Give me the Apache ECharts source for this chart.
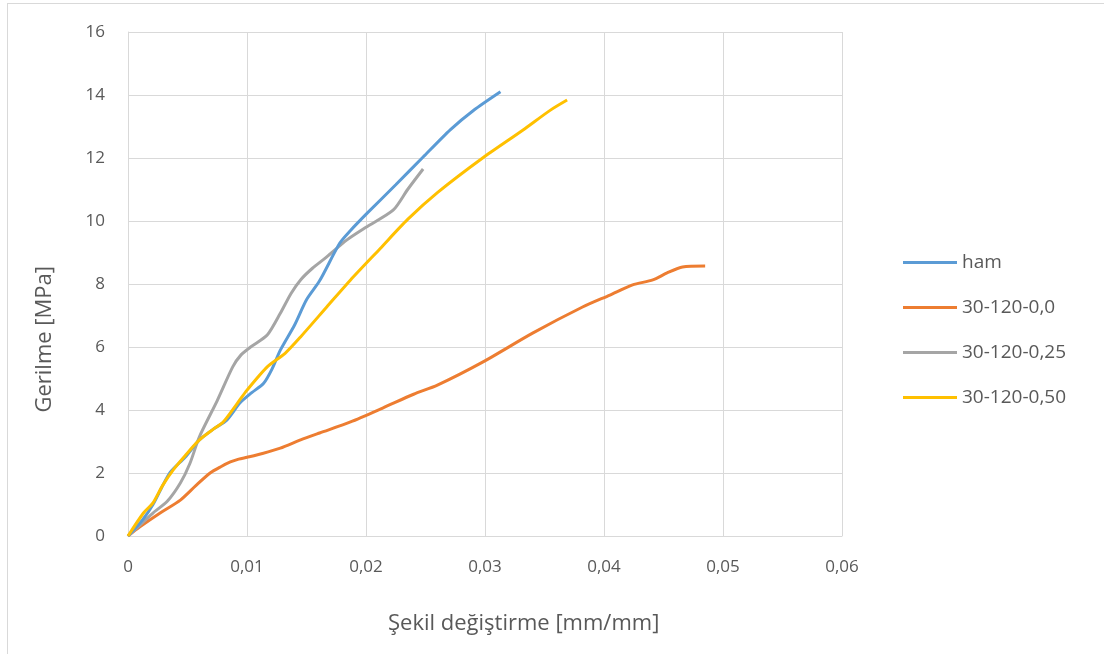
<!DOCTYPE html>
<html>
<head>
<meta charset="utf-8">
<script src="https://cdn.jsdelivr.net/npm/echarts@6/dist/echarts.min.js"></script>
<style>
  html, body { margin: 0; padding: 0; background: #fff; }
  #frame { position: absolute; left: 7px; top: 3px; width: 1200px; height: 700px;
           border-left: 1px solid #d9d9d9; border-top: 1px solid #d9d9d9; }
  #chart { position: absolute; left: 0; top: 0; width: 1104px; height: 654px; }
</style>
</head>
<body>
<div id="frame"></div>
<div id="chart"></div>
<script>
// Gerilme - şekil değiştirme eğrileri
const seriesNames = ["ham", "30-120-0,0", "30-120-0,25", "30-120-0,50"];
const seriesColors = ["#5B9BD5", "#ED7D31", "#A5A5A5", "#FFC000"];

const xTicks = [0, 0.01, 0.02, 0.03, 0.04, 0.05, 0.06];
const yTicks = [0, 2, 4, 6, 8, 10, 12, 14, 16];

// ham
const hamStrain = [0, 0.0012, 0.0021, 0.0035, 0.0048, 0.006, 0.0072, 0.0083, 0.0094, 0.0104, 0.0114, 0.0121, 0.0128, 0.014, 0.015, 0.0161, 0.0178, 0.0187, 0.0201, 0.0225, 0.0248, 0.0271, 0.029, 0.0313];
const hamStress = [0, 0.5, 1.0, 2.0, 2.5, 3.05, 3.4, 3.68, 4.22, 4.55, 4.85, 5.3, 5.9, 6.7, 7.5, 8.1, 9.3, 9.7, 10.25, 11.15, 12.03, 12.9, 13.5, 14.1];

// 30-120-0,0
const s00Strain = [0, 0.001, 0.0027, 0.0044, 0.0057, 0.0069, 0.0078, 0.0086, 0.0093, 0.01, 0.0113, 0.0128, 0.0145, 0.0161, 0.0187, 0.0214, 0.024, 0.026, 0.0298, 0.034, 0.0382, 0.0405, 0.0424, 0.0441, 0.0453, 0.0466, 0.0485];
const s00Stress = [0, 0.29, 0.73, 1.14, 1.6, 2.0, 2.2, 2.35, 2.44, 2.5, 2.62, 2.79, 3.05, 3.27, 3.62, 4.06, 4.5, 4.79, 5.52, 6.44, 7.27, 7.65, 7.97, 8.13, 8.35, 8.54, 8.57];

// 30-120-0,25
const s25Strain = [0, 0.0021, 0.0033, 0.0044, 0.0052, 0.006, 0.0075, 0.0088, 0.0095, 0.0103, 0.0117, 0.0128, 0.0137, 0.0145, 0.0155, 0.0167, 0.0184, 0.02, 0.0223, 0.0235, 0.0248];
const s25Stress = [0, 0.73, 1.1, 1.68, 2.3, 3.15, 4.3, 5.37, 5.75, 6.0, 6.38, 7.07, 7.7, 8.13, 8.5, 8.86, 9.4, 9.8, 10.35, 11.0, 11.65];

// 30-120-0,50
const s50Strain = [0, 0.0013, 0.0021, 0.0029, 0.0038, 0.0048, 0.006, 0.0072, 0.008, 0.0092, 0.01, 0.0117, 0.0132, 0.0145, 0.0167, 0.0187, 0.0212, 0.0235, 0.026, 0.0298, 0.0332, 0.0355, 0.0369];
const s50Stress = [0, 0.73, 1.05, 1.6, 2.1, 2.55, 3.05, 3.4, 3.62, 4.22, 4.63, 5.37, 5.8, 6.32, 7.27, 8.13, 9.13, 10.05, 10.9, 12.0, 12.89, 13.52, 13.84];

const strains = [hamStrain, s00Strain, s25Strain, s50Strain];
const stresses = [hamStress, s00Stress, s25Stress, s50Stress];

const labelFont = "'Open Sans', 'Noto Sans', sans-serif";

const chart = echarts.init(document.getElementById("chart"));

const series = seriesNames.map((name, i) => ({
  name: name,
  type: "line",
  data: strains[i].map((x, k) => [x, stresses[i][k]]),
  smooth: 0.25,
  showSymbol: false,
  symbol: "none",
  lineStyle: { color: seriesColors[i], width: 3 },
  itemStyle: { color: seriesColors[i] },
  z: i === 3 ? 5 : 3 + (i === 0 ? 1 : 0),
}));

chart.setOption({
  animation: false,
  backgroundColor: "transparent",
  grid: { left: 128, top: 32, width: 714, height: 504, containLabel: false },
  xAxis: {
    type: "value",
    min: xTicks[0],
    max: xTicks[xTicks.length - 1],
    interval: 0.01,
    axisLine: { show: true, lineStyle: { color: "#d9d9d9", width: 1 } },
    axisTick: { show: false },
    splitLine: { show: true, lineStyle: { color: "#d9d9d9", width: 1 } },
    axisLabel: {
      color: "#595959", fontSize: 17, fontFamily: labelFont, margin: 23,
      formatter: (v) => (v === 0 ? "0" : v.toFixed(2).replace(".", ",")),
    },
  },
  yAxis: {
    type: "value",
    min: yTicks[0],
    max: yTicks[yTicks.length - 1],
    interval: 2,
    axisLine: { show: true, lineStyle: { color: "#d9d9d9", width: 1 } },
    axisTick: { show: false },
    splitLine: { show: true, lineStyle: { color: "#d9d9d9", width: 1 } },
    axisLabel: { color: "#595959", fontSize: 17, fontFamily: labelFont, margin: 23 },
  },
  legend: {
    orient: "vertical",
    left: 903,
    top: 253,
    padding: 0,
    itemWidth: 54,
    itemHeight: 3,
    itemGap: 26,
    icon: "rect",
    textStyle: { color: "#595959", fontSize: 19, fontFamily: labelFont, padding: [0, 0, 0, 0] },
    data: seriesNames,
  },
  graphic: [
    {
      type: "text",
      left: 34,
      top: 266,
      rotation: Math.PI / 2,
      style: { text: "Gerilme [MPa]", fill: "#595959", font: "22px " + labelFont },
    },
    {
      type: "text",
      left: 388,
      top: 613,
      style: { text: "Şekil değiştirme [mm/mm]", fill: "#595959", font: "22px " + labelFont },
    },
  ],
  series: series,
});
</script>
</body>
</html>
